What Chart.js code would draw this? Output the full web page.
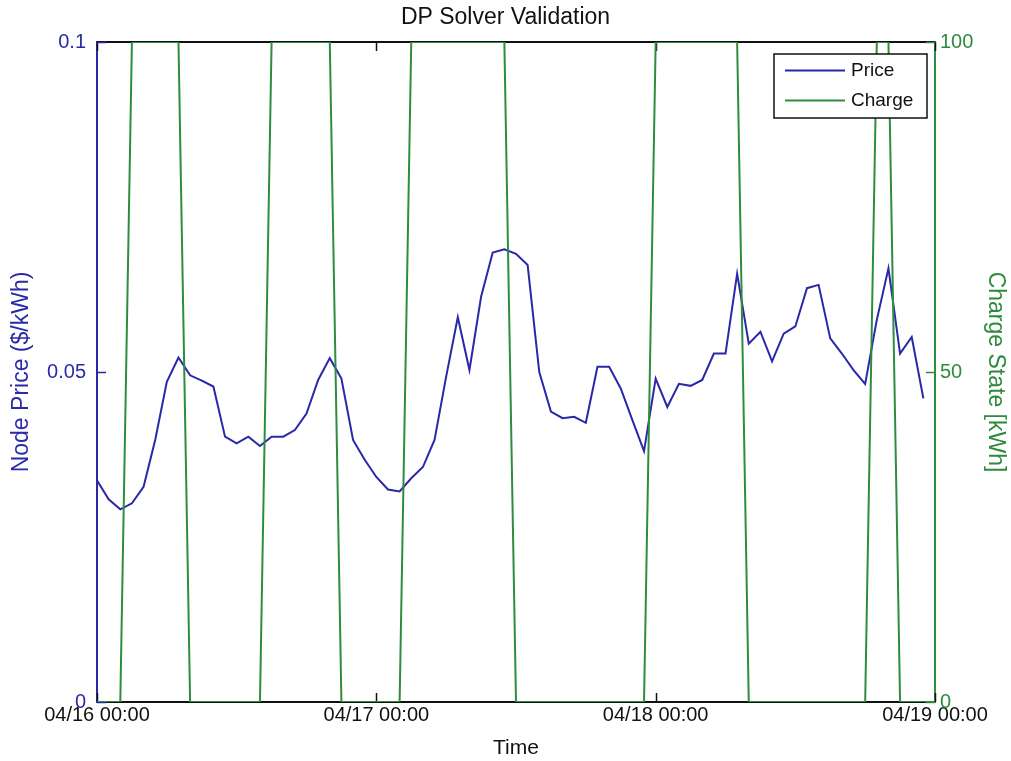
<!DOCTYPE html>
<html>
<head>
<meta charset="utf-8">
<script src="https://cdn.jsdelivr.net/npm/chart.js@4.4.1/dist/chart.umd.min.js"></script>
<style>
  html, body { margin: 0; padding: 0; background: #ffffff; }
  #wrap { width: 1011px; height: 761px; }
</style>
</head>
<body>
<div id="wrap"><canvas id="c" width="1011" height="761"></canvas></div>
<script>
// ---- data (hourly, starting 04/16 00:00) ----
const price = [
  0.0336, 0.0307, 0.0292, 0.0301, 0.0326, 0.0397, 0.0485, 0.0522, 0.0495, 0.0487,
  0.0478, 0.0402, 0.0392, 0.0402, 0.0388, 0.0402, 0.0402, 0.0412, 0.0437, 0.0488,
  0.0521, 0.0490, 0.0397, 0.0367, 0.0341, 0.0322, 0.0319, 0.0339, 0.0356, 0.0397,
  0.0493, 0.0583, 0.0503, 0.0614, 0.0681, 0.0686, 0.0679, 0.0662, 0.0500, 0.0440,
  0.0430, 0.0432, 0.0423, 0.0508, 0.0508, 0.0475, 0.0427, 0.0380, 0.0490, 0.0447,
  0.0482, 0.0479, 0.0488, 0.0528, 0.0528, 0.0649, 0.0543, 0.0561, 0.0516, 0.0558,
  0.0569, 0.0627, 0.0632, 0.0551, 0.0528, 0.0503, 0.0482, 0.0579, 0.0657, 0.0528,
  0.0553, 0.0460
];
const charge = [
  0, 0, 0,
  100, 100, 100, 100, 100,
  0, 0, 0, 0, 0, 0, 0,
  100, 100, 100, 100, 100, 100,
  0, 0, 0, 0, 0, 0,
  100, 100, 100, 100, 100, 100, 100, 100, 100,
  0, 0, 0, 0, 0, 0, 0, 0, 0, 0, 0, 0,
  100, 100, 100, 100, 100, 100, 100, 100,
  0, 0, 0, 0, 0, 0, 0, 0, 0, 0, 0,
  100, 100,
  0, 0, 0, 0
];
const xTickValues = [0, 24, 48, 72];
const xTickLabels = ['04/16 00:00', '04/17 00:00', '04/18 00:00', '04/19 00:00'];
const priceTickValues = [0, 0.05, 0.1];
const priceTickLabels = ['0', '0.05', '0.1'];
const chargeTickValues = [0, 50, 100];
const chargeTickLabels = ['0', '50', '100'];

// ---- styling ----
const FONT = "'Liberation Sans', Arial, Helvetica, sans-serif";
const BLUE = '#2828a8';
const BLUE_TXT = '#2a2aa6';
const GREEN = '#2f8c3f';
const GREEN_TXT = '#2f8a3c';

const frameTicks = {
  id: 'frameTicks',
  beforeDatasetsDraw(chart) {
    const { ctx, chartArea: a, scales } = chart;
    ctx.save();
    ctx.lineWidth = 2;
    ctx.strokeStyle = '#111';
    ctx.beginPath(); ctx.moveTo(a.left, a.top); ctx.lineTo(a.right, a.top); ctx.stroke();
    const L = 9;
    ctx.lineWidth = 1.5;
    scales.x.ticks.forEach(t => {
      const px = Math.round(scales.x.getPixelForValue(t.value)) + 0.5;
      ctx.strokeStyle = '#111';
      ctx.beginPath(); ctx.moveTo(px, a.bottom); ctx.lineTo(px, a.bottom - L); ctx.stroke();
      ctx.beginPath(); ctx.moveTo(px, a.top); ctx.lineTo(px, a.top + L); ctx.stroke();
    });
    scales.yPrice.ticks.forEach(t => {
      const py = Math.round(scales.yPrice.getPixelForValue(t.value)) + 0.5;
      ctx.strokeStyle = BLUE;
      ctx.beginPath(); ctx.moveTo(a.left, py); ctx.lineTo(a.left + L, py); ctx.stroke();
    });
    scales.yCharge.ticks.forEach(t => {
      const py = Math.round(scales.yCharge.getPixelForValue(t.value)) + 0.5;
      ctx.strokeStyle = GREEN;
      ctx.beginPath(); ctx.moveTo(a.right, py); ctx.lineTo(a.right - L, py); ctx.stroke();
    });
    ctx.restore();
  }
};

const boxLegend = {
  id: 'boxLegend',
  afterDatasetsDraw(chart) {
    const { ctx, chartArea: a } = chart;
    const w = 153, h = 64;
    const x0 = a.right - 8 - w, y0 = a.top + 12;
    ctx.save();
    ctx.fillStyle = '#fff';
    ctx.fillRect(x0, y0, w, h);
    ctx.strokeStyle = '#111';
    ctx.lineWidth = 1.5;
    ctx.strokeRect(x0, y0, w, h);
    ctx.font = '19px ' + FONT;
    ctx.textBaseline = 'middle';
    ctx.textAlign = 'left';
    chart.data.datasets.forEach((ds, i) => {
      const y = y0 + 16.5 + i * 30;
      ctx.strokeStyle = ds.borderColor;
      ctx.lineWidth = 2;
      ctx.beginPath(); ctx.moveTo(x0 + 11, y); ctx.lineTo(x0 + 71, y); ctx.stroke();
      ctx.fillStyle = '#111';
      ctx.fillText(ds.label, x0 + 77, y);
    });
    ctx.restore();
  }
};

new Chart(document.getElementById('c'), {
  type: 'line',
  data: {
    datasets: [
      {
        label: 'Price',
        data: price.map((v, i) => ({ x: i, y: v })),
        yAxisID: 'yPrice',
        borderColor: BLUE,
        borderWidth: 2,
        pointRadius: 0,
        tension: 0,
        fill: false,
        order: 1
      },
      {
        label: 'Charge',
        data: charge.map((v, i) => ({ x: i, y: v })),
        yAxisID: 'yCharge',
        borderColor: GREEN,
        borderWidth: 2,
        pointRadius: 0,
        tension: 0,
        fill: false,
        order: 0
      }
    ]
  },
  options: {
    responsive: false,
    animation: false,
    devicePixelRatio: 1,
    layout: { padding: 0 },
    plugins: {
      legend: { display: false },
      tooltip: { enabled: false },
      title: {
        display: true,
        text: 'DP Solver Validation',
        color: '#111',
        font: { family: FONT, size: 23, weight: 'normal' },
        padding: { top: 4.2, bottom: 10.2 }
      }
    },
    scales: {
      x: {
        type: 'linear',
        position: 'bottom',
        min: 0,
        max: 72,
        afterBuildTicks: s => { s.ticks = xTickValues.map(v => ({ value: v })); },
        afterFit: s => { s.height = 59; },
        ticks: {
          callback: (v) => xTickLabels[xTickValues.indexOf(v)],
          color: '#111',
          font: { family: FONT, size: 20 },
          padding: 1,
          maxRotation: 0,
          autoSkip: false
        },
        grid: { display: true, drawOnChartArea: false, drawTicks: false },
        border: { display: true, color: '#111', width: 2 },
        title: {
          display: true,
          text: 'Time',
          color: '#111',
          font: { family: FONT, size: 21 },
          padding: { top: 0, bottom: 0 }
        }
      },
      yPrice: {
        type: 'linear',
        position: 'left',
        min: 0,
        max: 0.1,
        afterBuildTicks: s => { s.ticks = priceTickValues.map(v => ({ value: v })); },
        afterFit: s => { s.width = 97; },
        ticks: {
          callback: (v) => priceTickLabels[priceTickValues.indexOf(v)],
          color: BLUE_TXT,
          font: { family: FONT, size: 20 },
          padding: 11
        },
        grid: { display: true, drawOnChartArea: false, drawTicks: false },
        border: { display: true, color: BLUE, width: 2 },
        title: {
          display: true,
          text: 'Node Price ($/kWh)',
          color: BLUE_TXT,
          font: { family: FONT, size: 23 },
          padding: { top: 7.5, bottom: 0 }
        }
      },
      yCharge: {
        type: 'linear',
        position: 'right',
        min: 0,
        max: 100,
        afterBuildTicks: s => { s.ticks = chargeTickValues.map(v => ({ value: v })); },
        afterFit: s => { s.width = 76; },
        ticks: {
          callback: (v) => chargeTickLabels[chargeTickValues.indexOf(v)],
          color: GREEN_TXT,
          font: { family: FONT, size: 20 },
          padding: 5
        },
        grid: { display: true, drawOnChartArea: false, drawTicks: false },
        border: { display: true, color: GREEN, width: 2 },
        title: {
          display: true,
          text: 'Charge State [kWh]',
          color: GREEN_TXT,
          font: { family: FONT, size: 23 },
          padding: { top: 1.5, bottom: 0 }
        }
      }
    }
  },
  plugins: [frameTicks, boxLegend]
});
</script>
</body>
</html>
